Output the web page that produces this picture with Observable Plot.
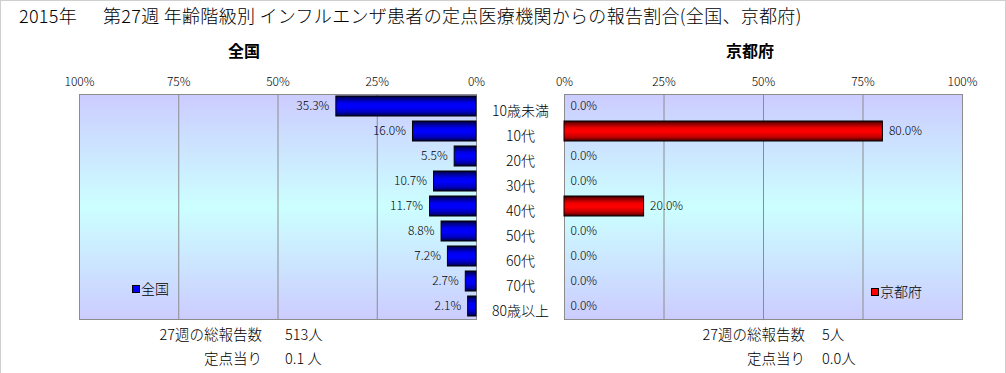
<!DOCTYPE html>
<html><head><meta charset="utf-8">
<script src="https://cdn.jsdelivr.net/npm/d3@7"></script>
<script src="https://cdn.jsdelivr.net/npm/@observablehq/plot@0.6"></script>
<style>
body{margin:0;background:#fff;}
#chart{position:relative;width:1006px;height:373px;font-family:"Noto Sans CJK JP","Noto Sans",sans-serif;color:#000;overflow:hidden;background:#fff;}
#frame{position:absolute;left:0;top:0;width:1006px;height:373px;box-sizing:border-box;border:1px solid #cfcfcf;border-bottom:none;}
.t{position:absolute;white-space:pre;line-height:1;}
#chart svg{position:absolute;left:0;top:0;}
.sw{display:inline-block;width:6px;height:6px;border:1px solid #000;margin-right:1px;vertical-align:middle;position:relative;top:-1px;}
</style></head><body><div id="chart"><div id="frame"></div></div>
<script>
// ---- data ----
const categories = ["10歳未満", "10代", "20代", "30代", "40代", "50代", "60代", "70代", "80歳以上"];
const national = [35.3, 16.0, 5.5, 10.7, 11.7, 8.8, 7.2, 2.7, 2.1];
const kyoto = [0.0, 80.0, 0.0, 0.0, 20.0, 0.0, 0.0, 0.0, 0.0];
const tickValues = [0, 25, 50, 75, 100];
const titleYear = "2015年";
const titleMain = "第27週 年齢階級別 インフルエンザ患者の定点医療機関からの報告割合(全国、京都府)";
const panelNames = ["全国", "京都府"];
const footerLabels = ["27週の総報告数", "定点当り"];
const nationalFooter = ["513人", "0.1 人"];
const kyotoFooter = ["5人", "0.0人"];

const natData = categories.map((c, i) => ({cat: c, v: national[i]}));
const kyoData = categories.map((c, i) => ({cat: c, v: kyoto[i]}));

const chart = document.getElementById("chart");
const W = 1006, H = 373;

function grad(id, stops) {
  return () => {
    const d = d3.create("svg:defs");
    const g = d.append("linearGradient").attr("id", id)
      .attr("x1", 0).attr("y1", 0).attr("x2", 0).attr("y2", 1);
    stops.forEach(([o, c]) => g.append("stop").attr("offset", o).attr("stop-color", c));
    return d.node();
  };
}
const bgStops = [[0, "#ccccff"], [0.5, "#ccffff"], [1, "#ccccff"]];
const blueStops = [[0, "#000030"], [0.12, "#000080"], [0.35, "#0000f0"], [0.55, "#0000ff"], [0.8, "#0000c0"], [1, "#000040"]];
const redStops = [[0, "#300000"], [0.12, "#800000"], [0.35, "#f00000"], [0.55, "#ff0000"], [0.8, "#c00000"], [1, "#400000"]];

const yScale = {domain: categories, paddingInner: 0.2, paddingOuter: 0.1};
const fontFam = '"Noto Sans CJK JP","Noto Sans",sans-serif';

const left = Plot.plot({
  width: W, height: H,
  marginLeft: 79, marginRight: W - 476, marginTop: 94, marginBottom: H - 319,
  style: `background:transparent;overflow:visible;font-family:${fontFam};color:#000;`,
  x: {domain: [0, 100], reverse: true},
  y: yScale,
  marks: [
    grad("bgL", bgStops),
    grad("barBlue", blueStops),
    Plot.frame({fill: "url(#bgL)"}),
    Plot.ruleX([25, 50, 75], {stroke: "#8c8c8c", strokeWidth: 1}),
    Plot.frame({stroke: "#8c8c8c", strokeWidth: 1}),
    Plot.barX(natData, {x: "v", y: "cat", fill: "url(#barBlue)", stroke: "#000", strokeWidth: 1}),
    Plot.text(natData, {x: "v", y: "cat", text: d => d.v.toFixed(1) + "%", textAnchor: "end", dx: -7, fontSize: 12, fontWeight: 300, fill: "#000"}),
    Plot.axisX({anchor: "top", ticks: tickValues, tickFormat: d => d + "%", tickSize: 0, tickPadding: 9, fontSize: 12, fontWeight: 300, label: null}),
    Plot.axisY({anchor: "right", tickSize: 0, tickPadding: 44, textAnchor: "middle", fontSize: 14, fontWeight: 300, dy: 5, label: null})
  ]
});
chart.appendChild(left);

const right = Plot.plot({
  width: W, height: H,
  marginLeft: 564, marginRight: W - 962, marginTop: 94, marginBottom: H - 319,
  style: `background:transparent;overflow:visible;font-family:${fontFam};color:#000;`,
  x: {domain: [0, 100]},
  y: {...yScale, axis: null},
  marks: [
    grad("bgR", bgStops),
    grad("barRed", redStops),
    Plot.frame({fill: "url(#bgR)"}),
    Plot.ruleX([25, 50, 75], {stroke: "#8c8c8c", strokeWidth: 1}),
    Plot.frame({stroke: "#8c8c8c", strokeWidth: 1}),
    Plot.barX(kyoData.filter(d => d.v > 0), {x: "v", y: "cat", fill: "url(#barRed)", stroke: "#000", strokeWidth: 1}),
    Plot.text(kyoData, {x: "v", y: "cat", text: d => d.v.toFixed(1) + "%", textAnchor: "start", dx: 6, fontSize: 12, fontWeight: 300, fill: "#000"}),
    Plot.axisX({anchor: "top", ticks: tickValues, tickFormat: d => d + "%", tickSize: 0, tickPadding: 9, fontSize: 12, fontWeight: 300, label: null})
  ]
});
chart.appendChild(right);

function addText(str, x, y, opts = {}) {
  const el = document.createElement("div");
  el.className = "t";
  el.textContent = str;
  el.style.left = x + "px";
  el.style.top = y + "px";
  el.style.fontSize = (opts.size || 13) + "px";
  el.style.fontWeight = opts.weight || 300;
  if (opts.spacing) el.style.letterSpacing = opts.spacing + "px";
  const tx = opts.anchor === "end" ? "-100%" : opts.anchor === "middle" ? "-50%" : "0";
  el.style.transform = `translate(${tx},-50%)`;
  chart.appendChild(el);
  return el;
}

// title
addText(titleYear, 19, 15, {size: 18, spacing: 0.3});
addText(titleMain, 103, 15, {size: 18, spacing: 0.3});
// panel titles
addText(panelNames[0], 244, 50, {size: 16, weight: "bold", anchor: "middle"});
addText(panelNames[1], 750, 50, {size: 16, weight: "bold", anchor: "middle"});

// legends
function legend(name, color, x, y) {
  const el = addText("", x, y, {size: 14});
  const sw = document.createElement("span");
  sw.className = "sw";
  sw.style.background = color;
  el.appendChild(sw);
  el.appendChild(document.createTextNode(name));
}
legend(panelNames[0], "#0000ff", 132, 288);
legend(panelNames[1], "#ff0000", 871, 291);

// footers
const rowY = [334, 358];
footerLabels.forEach((lab, i) => {
  addText(lab, 262, rowY[i], {size: 14.5, anchor: "end"});
  addText(nationalFooter[i], 285, rowY[i], {size: 14.5});
  addText(lab, 805, rowY[i], {size: 14.5, anchor: "end"});
  addText(kyotoFooter[i], 822, rowY[i], {size: 14.5});
});
</script></body></html>
